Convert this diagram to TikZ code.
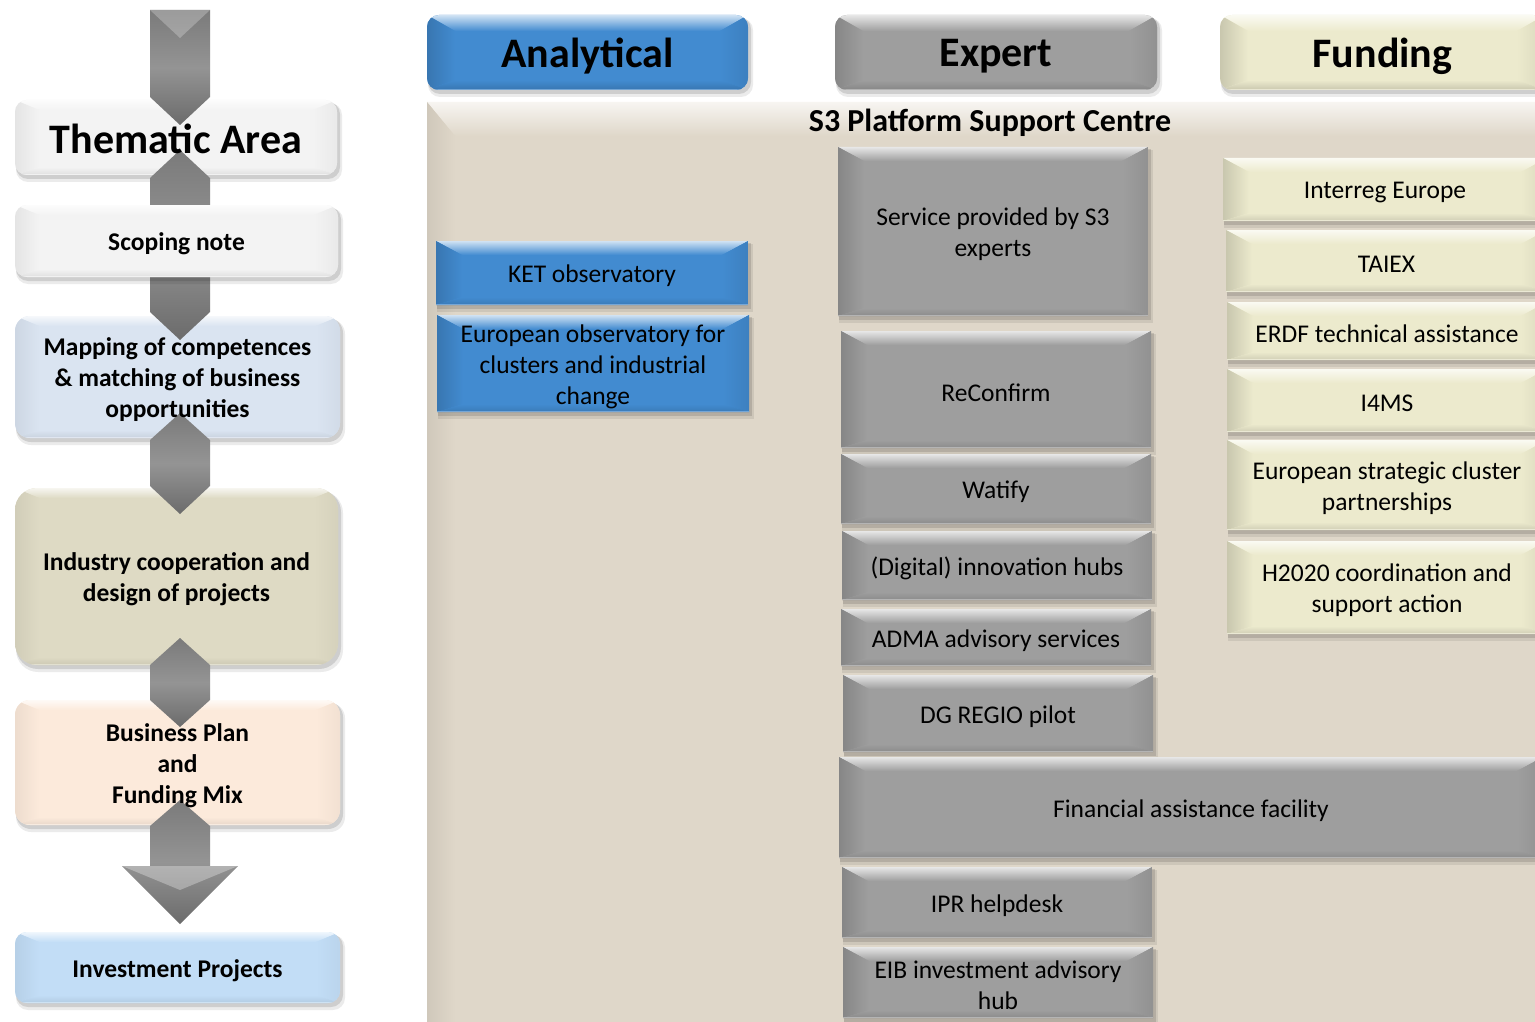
\documentclass[tikz,border=0pt]{standalone}
\usepackage{fontspec}
\setmainfont{Carlito}
\pgfdeclarelayer{fg}
\pgfsetlayers{main,fg}
\definecolor{cwht}{RGB}{243,243,243}
\definecolor{cmap}{RGB}{218,228,241}
\definecolor{cind}{RGB}{222,218,196}
\definecolor{cbus}{RGB}{252,234,219}
\definecolor{cinv}{RGB}{194,221,246}
\definecolor{cblue}{RGB}{66,139,208}
\definecolor{cgray}{RGB}{158,158,158}
\definecolor{ccream}{RGB}{236,234,205}
\definecolor{cpanel}{RGB}{223,215,201}
\def\bvx{26}\def\bvt{14}\def\bvb{8}\def\bvl{88}\def\bvr{94}\def\bvd{85}
\def\bvfont{\fontsize{25.5}{31}\selectfont}
\def\bvshift{-3pt}
% #1 radius, #2 name, #3 x1, #4 y1, #5 x2, #6 y2, #7 colour, #8 text
\newcommand\bevbox[8][0]{%
  \fill[black,opacity=.08,rounded corners=#1] (#3+1,#4+3) rectangle (#5+5,#6+7);
  \fill[black,opacity=.12,rounded corners=#1] (#3+1,#4+2) rectangle (#5+3,#6+4);
  \fill[#7,rounded corners=#1] (#3,#4) rectangle (#5,#6);
  \begin{scope}
    \clip[rounded corners=#1] (#3,#4) rectangle (#5,#6);
    \shade[top color=#7!25!white,bottom color=#7] (#3,#4) -- (#5,#4) -- (#5-\bvx,#4+\bvt) -- (#3+\bvx,#4+\bvt) -- cycle;
    \shade[left color=#7!\bvl!black,right color=#7] (#3,#4) -- (#3+\bvx,#4+\bvt) -- (#3+\bvx,#6-\bvb) -- (#3,#6) -- cycle;
    \shade[left color=#7,right color=#7!\bvr!black] (#5,#4) -- (#5-\bvx,#4+\bvt) -- (#5-\bvx,#6-\bvb) -- (#5,#6) -- cycle;
    \shade[top color=#7,bottom color=#7!\bvd!black] (#3,#6) -- (#3+\bvx,#6-\bvb) -- (#5-\bvx,#6-\bvb) -- (#5,#6) -- cycle;
    \draw[#7!60!white,line width=1.2pt,opacity=.7] (#3,#6-.6) -- (#5,#6-.6);
  \end{scope}
  \begin{pgfonlayer}{fg}
    \node[name=#2,align=center,inner sep=0pt,font=\bvfont,yshift=\bvshift] at ({(#3+#5)/2},{(#4+#6)/2}) {#8};
  \end{pgfonlayer}}
\tikzset{arrowseg/.style={left color=black!52,right color=black!58,middle color=black!42,shading angle=0}}
\begin{document}
\begin{tikzpicture}[x=1pt,y=-1pt]
\useasboundingbox (0,0) rectangle (1535,1022);
\clip (0,0) rectangle (1535,1022);
\fill[white] (0,0) rectangle (1535,1022);
% panel
\def\bvx{28}\def\bvt{34}\def\bvb{0}\def\bvl{93}\def\bvr{95}\def\bvd{95}
\bevbox{panel}{427}{102}{1570}{1060}{cpanel}{}
\begin{pgfonlayer}{fg}
\node[font=\bfseries\fontsize{32}{38}\selectfont,inner sep=0pt] (s3title) at (990,123) {S3 Platform Support Centre};
\end{pgfonlayer}
% headers
\def\bvx{28}\def\bvt{16}\def\bvb{10}\def\bvl{85}\def\bvr{92}\def\bvd{85}
\def\bvfont{\bfseries\fontsize{42}{50}\selectfont}
\def\bvshift{-4pt}
\bevbox[12]{analytical}{427}{15}{748}{90}{cblue}{Analytical}
\bevbox[12]{expert}{835}{15}{1157}{90}{cgray}{Expert}
\bevbox[12]{funding}{1220}{15}{1545}{90}{ccream}{Funding}
% column boxes
\def\bvx{26}\def\bvt{14}\def\bvb{8}\def\bvl{85}\def\bvr{92}\def\bvd{88}
\def\bvfont{\fontsize{25.5}{31}\selectfont}
\def\bvshift{-3pt}
\bevbox{ket}{436}{241}{748}{305}{cblue}{KET observatory}
\bevbox{eoc}{437}{315}{749}{412}{cblue}{European observatory for\\clusters and industrial\\change}
\bevbox{s3exp}{838}{147}{1148}{316}{cgray}{Service provided by S3\\experts}
\bevbox{reconfirm}{841}{331}{1151}{448}{cgray}{ReConfirm}
\bevbox{watify}{841}{454}{1151}{524}{cgray}{Watify}
\bevbox{dih}{842}{531}{1152}{600}{cgray}{(Digital) innovation hubs}
\bevbox{adma}{841}{609}{1151}{666}{cgray}{ADMA advisory services}
\bevbox{regio}{843}{675}{1153}{752}{cgray}{DG REGIO pilot}
\bevbox{faf}{839}{757}{1543}{858}{cgray}{Financial assistance facility}
\bevbox{ipr}{842}{867}{1152}{938}{cgray}{IPR helpdesk}
\bevbox{eib}{843}{947}{1153}{1018}{cgray}{EIB investment advisory\\hub}
\bevbox{interreg}{1223}{158}{1547}{221}{ccream}{Interreg Europe}
\bevbox{taiex}{1226}{230}{1547}{292}{ccream}{TAIEX}
\bevbox{erdf}{1227}{302}{1547}{360}{ccream}{ERDF technical assistance}
\bevbox{i4ms}{1227}{369}{1547}{432}{ccream}{I4MS}
\bevbox{escp}{1227}{440}{1547}{530}{ccream}{European strategic cluster\\partnerships}
\bevbox{h2020}{1227}{541}{1547}{634}{ccream}{H2020 coordination and\\support action}
% left column
\def\bvx{24}\def\bvt{10}\def\bvb{8}\def\bvl{94}\def\bvr{96}\def\bvd{92}
\def\bvfont{\bfseries\fontsize{42}{50}\selectfont}
\def\bvshift{-1pt}
\bevbox[12]{thematic}{15}{100}{337}{175}{cwht}{Thematic Area}
\def\bvfont{\bfseries\fontsize{25.5}{31}\selectfont}
\def\bvshift{-3pt}
\bevbox[15]{mapping}{15}{316}{340}{438}{cmap}{Mapping of competences\\\& matching of business\\opportunities}
\bevbox[22]{industry}{15}{488}{338}{665}{cind}{Industry cooperation and\\design of projects}
\bevbox[15]{business}{15}{700}{340}{825}{cbus}{Business Plan\\and\\Funding Mix}
% arrows
\shade[arrowseg] (150,10) -- (210,10) -- (210,97) -- (180,125) -- (150,97) -- cycle;
\fill[white,opacity=.25] (150,10) -- (210,10) -- (180,38) -- cycle;
\shade[arrowseg] (180,150) -- (210,178) -- (210,312) -- (180,340) -- (150,312) -- (150,178) -- cycle;
\shade[arrowseg] (180,413) -- (210,440) -- (210,486) -- (180,514) -- (150,486) -- (150,440) -- cycle;
\shade[arrowseg] (180,638) -- (210,665) -- (210,700) -- (180,727) -- (150,700) -- (150,665) -- cycle;
\shade[arrowseg] (180,800) -- (210,826) -- (210,866) -- (238,866) -- (180,924) -- (122,866) -- (150,866) -- (150,826) -- cycle;
\fill[white,opacity=.3] (122,866) -- (238,866) -- (180,890) -- cycle;
% opaque boxes above the arrows
\bevbox[12]{scoping}{15}{205}{338}{277}{cwht}{Scoping note}
\bevbox[12]{investment}{15}{932}{340}{1003}{cinv}{Investment Projects}
\end{tikzpicture}
\end{document}
